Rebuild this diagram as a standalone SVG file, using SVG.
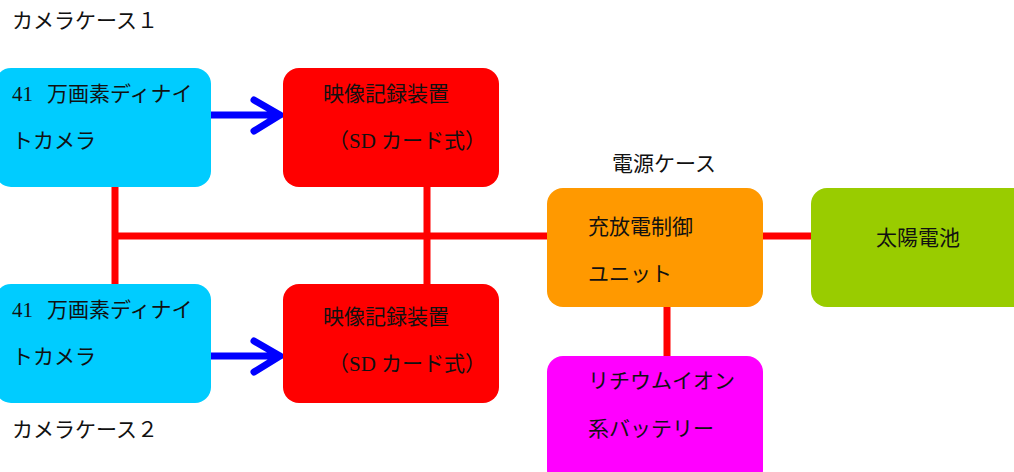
<svg xmlns="http://www.w3.org/2000/svg" width="1014" height="472" viewBox="0 0 1014 472">
<style>
text{font-family:"Liberation Serif","Noto Sans CJK JP",serif;font-size:21px;fill:#111}
.red{stroke:#FF0000;stroke-width:7;fill:none}
.blue{stroke:#0000FF;stroke-width:7;fill:none;stroke-linecap:round;stroke-linejoin:round}
</style>
<rect width="1014" height="472" fill="#fff"/>
<text x="12" y="28">カメラケース１</text>
<text x="12" y="437">カメラケース２</text>
<text x="612" y="171">電源ケース</text>
<g id="connectors">
<path class="red" d="M115 187V284M115 236H547M427 187V284M763 236H811M667 307V356"/>
<path class="blue" d="M211 115H280M254 100L280 115L254 131"/>
<path class="blue" d="M211 356H280M254 341L280 356L254 372"/>
</g>
<g id="camera1"><rect x="-5" y="68" width="216" height="119" rx="16" fill="#00CCFF"/>
<text x="12" y="101">41<tspan dx="14">万画素ディナイ</tspan></text><text x="12" y="148">トカメラ</text></g>
<g id="recorder1"><rect x="283" y="68" width="216" height="119" rx="16" fill="#FF0000"/>
<text x="323" y="101">映像記録装置</text><text x="328" y="148">（SD カード式）</text></g>
<g id="camera2"><rect x="-5" y="284" width="216" height="119" rx="16" fill="#00CCFF"/>
<text x="12" y="317">41<tspan dx="14">万画素ディナイ</tspan></text><text x="12" y="364">トカメラ</text></g>
<g id="recorder2"><rect x="283" y="284" width="216" height="119" rx="16" fill="#FF0000"/>
<text x="323" y="324">映像記録装置</text><text x="328" y="371">（SD カード式）</text></g>
<g id="controller"><rect x="547" y="188" width="216" height="119" rx="16" fill="#FF9900"/>
<text x="588" y="234">充放電制御</text><text x="588" y="281">ユニット</text></g>
<g id="solar"><rect x="811" y="188" width="230" height="119" rx="16" fill="#99CC00"/>
<text x="876" y="245">太陽電池</text></g>
<g id="battery"><rect x="547" y="356" width="216" height="130" rx="16" fill="#FF00FF"/>
<text x="588" y="388">リチウムイオン</text><text x="588" y="436">系バッテリー</text></g>
</svg>
